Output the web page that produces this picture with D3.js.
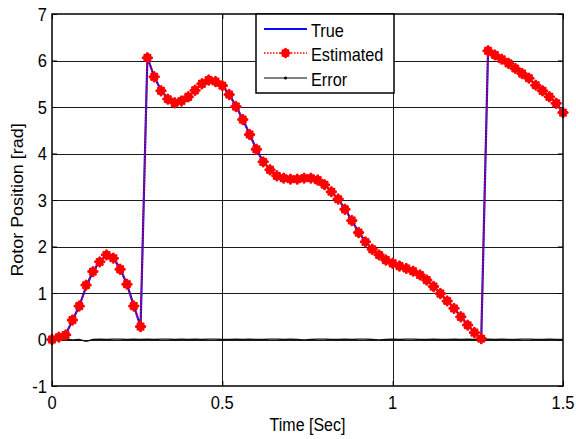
<!DOCTYPE html>
<html>
<head>
<meta charset="utf-8">
<script src="https://cdn.jsdelivr.net/npm/d3@7"></script>
<style>
  html, body { margin: 0; padding: 0; background: #fff; }
  svg { display: block; }
  text { font-family: "Liberation Sans", Arial, sans-serif; fill: #000; }
</style>
</head>
<body>
<svg id="chart" width="576" height="439"></svg>
<script>
// Sample instants (s), one every 20 ms
const timeSec = d3.range(0, 1.5001, 0.02).map(t => +t.toFixed(2));

// Rotor electrical angle [rad], wrapped to 0..2*pi
const trueAngle = [
  0.00, 0.06, 0.11, 0.41, 0.72, 1.13, 1.46, 1.68, 1.82, 1.76,
  1.52, 1.19, 0.73, 0.28, 6.07, 5.65, 5.36, 5.18, 5.09, 5.14,
  5.22, 5.37, 5.50, 5.59, 5.56, 5.46, 5.27, 5.02, 4.73, 4.42,
  4.09, 3.82, 3.66, 3.53, 3.47, 3.46, 3.45, 3.46, 3.47, 3.44,
  3.34, 3.18, 3.02, 2.81, 2.56, 2.31, 2.11, 1.94, 1.81, 1.71,
  1.65, 1.58, 1.54, 1.48, 1.39, 1.28, 1.15, 0.99, 0.83, 0.68,
  0.49, 0.32, 0.15, 0.02, 6.22, 6.12, 6.04, 5.94, 5.83, 5.73,
  5.63, 5.47, 5.35, 5.23, 5.08, 4.88
];

const estimatedAngle = [
  0.00, 0.05, 0.10, 0.42, 0.72, 1.17, 1.46, 1.67, 1.82, 1.75,
  1.51, 1.19, 0.72, 0.28, 6.06, 5.65, 5.35, 5.17, 5.09, 5.13,
  5.22, 5.36, 5.50, 5.58, 5.55, 5.46, 5.27, 5.01, 4.73, 4.41,
  4.09, 3.82, 3.65, 3.52, 3.47, 3.45, 3.45, 3.47, 3.47, 3.43,
  3.33, 3.18, 3.02, 2.80, 2.56, 2.30, 2.10, 1.94, 1.82, 1.71,
  1.64, 1.58, 1.53, 1.47, 1.39, 1.28, 1.14, 0.99, 0.83, 0.67,
  0.49, 0.31, 0.15, 0.02, 6.21, 6.12, 6.03, 5.94, 5.83, 5.72,
  5.62, 5.47, 5.35, 5.22, 5.08, 4.88
];

const errorAngle = [
  0.00, 0.01, 0.01, -0.01, 0.00, -0.04, 0.00, 0.01, 0.00, 0.01,
  0.01, 0.00, 0.01, 0.00, 0.01, 0.00, 0.01, 0.01, 0.00, 0.01,
  0.00, 0.01, 0.00, 0.01, 0.01, 0.00, 0.00, 0.01, 0.00, 0.01,
  0.00, 0.00, 0.01, 0.01, 0.00, 0.01, 0.00, -0.01, 0.00, 0.01,
  0.01, 0.00, 0.00, 0.01, 0.00, 0.01, 0.01, 0.00, -0.01, 0.00,
  0.01, 0.00, 0.01, 0.01, 0.00, 0.00, 0.01, 0.00, 0.00, 0.01,
  0.00, 0.01, 0.00, 0.00, 0.01, 0.00, 0.01, 0.00, 0.00, 0.01,
  0.01, 0.00, 0.00, 0.01, 0.00, 0.00
];

const xTicks = [0, 0.5, 1, 1.5];
const xTickLabels = ["0", "0.5", "1", "1.5"];
const yTicks = [-1, 0, 1, 2, 3, 4, 5, 6, 7];
const yTickLabels = ["-1", "0", "1", "2", "3", "4", "5", "6", "7"];
const seriesNames = ["True", "Estimated", "Error"];
const xTitle = "Time [Sec]";
const yTitle = "Rotor Position [rad]";

const svg = d3.select("#chart");
const pL = 52, pR = 563, pT = 14, pB = 386;

const x = d3.scaleLinear().domain([0, 1.5]).range([pL, pR]);
const y = d3.scaleLinear().domain([-1, 7]).range([pB, pT]);

const pts = arr => timeSec.map((t, i) => [t, arr[i]]);

// Grid
const grid = svg.append("g");
grid.selectAll("line.gx").data(xTicks.slice(1, -1)).join("line")
  .attr("x1", d => Math.round(x(d)) + 0.5).attr("x2", d => Math.round(x(d)) + 0.5)
  .attr("y1", pT).attr("y2", pB)
  .attr("stroke", "#1a1a1a").attr("stroke-width", 1);
grid.selectAll("line.gy").data(yTicks.slice(1, -1)).join("line")
  .attr("x1", pL).attr("x2", pR)
  .attr("y1", d => Math.round(y(d)) + 0.5).attr("y2", d => Math.round(y(d)) + 0.5)
  .attr("stroke", "#1a1a1a").attr("stroke-width", 1);

// Axes with inward ticks on all four sides
const axB = d3.axisBottom(x).tickValues(xTicks).tickSize(-5).tickFormat("");
const axT = d3.axisTop(x).tickValues(xTicks).tickSize(-5).tickFormat("");
const axL = d3.axisLeft(y).tickValues(yTicks).tickSize(-5).tickFormat("");
const axR = d3.axisRight(y).tickValues(yTicks).tickSize(-5).tickFormat("");
[[axB, `translate(0,${pB})`], [axT, `translate(0,${pT})`],
 [axL, `translate(${pL},0)`], [axR, `translate(${pR},0)`]].forEach(([a, tr]) => {
  const g = svg.append("g").attr("transform", tr).call(a);
  g.select(".domain").remove();
  g.selectAll("line").attr("stroke", "#000");
});

// Tick labels
const lab = svg.append("g").style("font-size", "16.5px");
lab.selectAll("text.xl").data(xTicks).join("text")
  .attr("text-anchor", "middle")
  .attr("transform", (d) => `translate(${x(d)},408.5) scale(1,1.1)`)
  .text((d, i) => xTickLabels[i]);
lab.selectAll("text.yl").data(yTicks).join("text")
  .attr("text-anchor", "end")
  .attr("transform", (d) => `translate(47,${y(d) + 6.5}) scale(1,1.1)`)
  .text((d, i) => yTickLabels[i]);

// Axis titles
svg.append("text").attr("text-anchor", "middle").style("font-size", "16px")
  .attr("transform", `translate(${(pL + pR) / 2},431) scale(1,1.1)`).text(xTitle);
svg.append("text").attr("text-anchor", "middle").style("font-size", "16px")
  .attr("transform", `translate(23,${(pT + pB) / 2}) rotate(-90) scale(1.12,1)`).text(yTitle);

// Series
const line = d3.line().x(d => x(d[0])).y(d => y(d[1]));
const plot = svg.append("g");

plot.append("path").datum(pts(errorAngle)).attr("d", line)
  .attr("fill", "none").attr("stroke", "#111").attr("stroke-width", 1.3);

plot.append("path").datum(pts(trueAngle)).attr("d", line)
  .attr("fill", "none").attr("stroke", "#0a0aff").attr("stroke-width", 2.2);

plot.append("path").datum(pts(estimatedAngle)).attr("d", line)
  .attr("fill", "none").attr("stroke", "#ff0000").attr("stroke-width", 1.5)
  .attr("stroke-dasharray", "1.5,1.5");

// Thick asterisk marker: a bold plus with shorter diagonals
const starPath = (r) => {
  const d = r * 0.62;
  return `M${-r},0L${r},0M0,${-r}L0,${r}M${-d},${-d}L${d},${d}M${-d},${d}L${d},${-d}`;
};
plot.selectAll("path.star").data(pts(estimatedAngle)).join("path")
  .attr("transform", d => `translate(${x(d[0])},${y(d[1])})`)
  .attr("d", starPath(4.2))
  .attr("fill", "none").attr("stroke", "#ff0000").attr("stroke-width", 3)
  .attr("stroke-linecap", "round");

// Axes box
svg.append("rect").attr("x", pL).attr("y", pT)
  .attr("width", pR - pL).attr("height", pB - pT)
  .attr("fill", "none").attr("stroke", "#000").attr("stroke-width", 1.5);

// Legend
const lg = svg.append("g");
lg.append("rect").attr("x", 256).attr("y", 14).attr("width", 138).attr("height", 79)
  .attr("fill", "#fff").attr("stroke", "#000").attr("stroke-width", 1.5);
const rowsY = [29, 53, 78];
const lx1 = 264, lx2 = 307, lmid = (lx1 + lx2) / 2;
lg.append("line").attr("x1", lx1).attr("x2", lx2).attr("y1", rowsY[0]).attr("y2", rowsY[0])
  .attr("stroke", "#0a0aff").attr("stroke-width", 2.2);
lg.append("line").attr("x1", lx1).attr("x2", lx2).attr("y1", rowsY[1]).attr("y2", rowsY[1])
  .attr("stroke", "#ff0000").attr("stroke-width", 1.5).attr("stroke-dasharray", "1.5,1.5");
lg.append("path").attr("transform", `translate(${lmid},${rowsY[1]})`).attr("d", starPath(3.8))
  .attr("fill", "none").attr("stroke", "#ff0000").attr("stroke-width", 3).attr("stroke-linecap", "round");
lg.append("line").attr("x1", lx1).attr("x2", lx2).attr("y1", rowsY[2]).attr("y2", rowsY[2])
  .attr("stroke", "#000").attr("stroke-width", 1);
lg.append("circle").attr("cx", lmid).attr("cy", rowsY[2]).attr("r", 1.5).attr("fill", "#000");
lg.selectAll("text").data(seriesNames).join("text")
  .style("font-size", "16.3px")
  .attr("transform", (d, i) => `translate(311,${rowsY[i] + 7.5}) scale(1,1.1)`)
  .text(d => d);
</script>
</body>
</html>
